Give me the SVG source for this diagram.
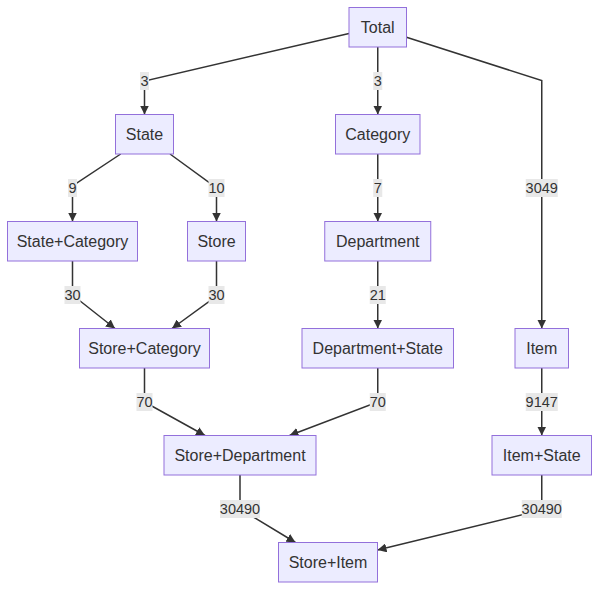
<svg xmlns="http://www.w3.org/2000/svg" width="599" height="590" viewBox="0 0 599 590">
<style>
.node rect{fill:#ECECFF;stroke:#9370DB;stroke-width:1}
.node text{font-family:"Liberation Sans",Arial,sans-serif;font-size:16px;fill:#333;text-anchor:middle;dominant-baseline:central}
.edges polyline{fill:none;stroke:#333;stroke-width:1.5;marker-end:url(#arrow)}
.elabel rect{fill:#e8e8e8}
.elabel text{font-family:"Liberation Sans",Arial,sans-serif;font-size:14.5px;fill:#333;text-anchor:middle;dominant-baseline:central}
</style>
<defs>
<marker id="arrow" viewBox="0 0 10 10" refX="10" refY="5" markerUnits="userSpaceOnUse" markerWidth="9" markerHeight="9" orient="auto">
<path d="M0,0 L10,5 L0,10 z" fill="#333"/>
</marker>
</defs>
<rect width="599" height="590" fill="#fff"/>
<g id="connectors" class="edges">
<polyline points="349,33.5 144.5,81 144.5,114.5"/>
<polyline points="377.75,47 377.75,114.5"/>
<polyline points="406.5,37.3 541.75,80.5 541.75,328.5"/>
<polyline points="120.7,154 72.5,186 72.5,221.5"/>
<polyline points="170,154 216.5,188 216.5,221.5"/>
<polyline points="377.75,154 377.75,221.5"/>
<polyline points="72.5,261 72.5,295 115,328.5"/>
<polyline points="216.5,261 216.5,296 172,328.5"/>
<polyline points="377.75,261 377.75,328.5"/>
<polyline points="144.5,368 144.5,402 205,435.5"/>
<polyline points="377.75,368 377.75,402 289.5,435.5"/>
<polyline points="541.75,368 541.75,435.5"/>
<polyline points="240,475 240,509 295.5,542.5"/>
<polyline points="541.75,475 541.75,510 377.5,550"/>
</g>
<g id="edge-labels" class="elabel">
<g><rect x="140" y="72" width="9" height="18"/><text x="144.5" y="81">3</text></g>
<g><rect x="373.25" y="72" width="9" height="18"/><text x="377.75" y="81">3</text></g>
<g><rect x="525.75" y="179" width="32" height="18"/><text x="541.75" y="188">3049</text></g>
<g><rect x="68" y="179" width="9" height="18"/><text x="72.5" y="188">9</text></g>
<g><rect x="208.5" y="179" width="16" height="18"/><text x="216.5" y="188">10</text></g>
<g><rect x="373.25" y="179" width="9" height="18"/><text x="377.75" y="188">7</text></g>
<g><rect x="64.5" y="286" width="16" height="18"/><text x="72.5" y="295">30</text></g>
<g><rect x="208.5" y="286" width="16" height="18"/><text x="216.5" y="295">30</text></g>
<g><rect x="369.75" y="286" width="16" height="18"/><text x="377.75" y="295">21</text></g>
<g><rect x="136.5" y="393" width="16" height="18"/><text x="144.5" y="402">70</text></g>
<g><rect x="369.75" y="393" width="16" height="18"/><text x="377.75" y="402">70</text></g>
<g><rect x="525.75" y="393" width="32" height="18"/><text x="541.75" y="402">9147</text></g>
<g><rect x="220" y="500" width="40" height="18"/><text x="240" y="509">30490</text></g>
<g><rect x="521.75" y="500" width="40" height="18"/><text x="541.75" y="509">30490</text></g>
</g>
<g id="Total" class="node"><rect x="349" y="7.5" width="57.5" height="39.5"/><text x="377.75" y="27.5">Total</text></g>
<g id="State" class="node"><rect x="115.5" y="114.5" width="58" height="39.5"/><text x="144.5" y="134.5">State</text></g>
<g id="Category" class="node"><rect x="335.5" y="114.5" width="84.5" height="39.5"/><text x="377.75" y="134.5">Category</text></g>
<g id="StateCategory" class="node"><rect x="7.5" y="221.5" width="130" height="39.5"/><text x="72.5" y="241.5">State+Category</text></g>
<g id="Store" class="node"><rect x="187.5" y="221.5" width="58" height="39.5"/><text x="216.5" y="241.5">Store</text></g>
<g id="Department" class="node"><rect x="324.75" y="221.5" width="106" height="39.5"/><text x="377.75" y="241.5">Department</text></g>
<g id="StoreCategory" class="node"><rect x="79.5" y="328.5" width="130" height="39.5"/><text x="144.5" y="348.5">Store+Category</text></g>
<g id="DepartmentState" class="node"><rect x="302" y="328.5" width="151.5" height="39.5"/><text x="377.75" y="348.5">Department+State</text></g>
<g id="Item" class="node"><rect x="515" y="328.5" width="53.5" height="39.5"/><text x="541.75" y="348.5">Item</text></g>
<g id="StoreDepartment" class="node"><rect x="164" y="435.5" width="152" height="39.5"/><text x="240" y="455.5">Store+Department</text></g>
<g id="ItemState" class="node"><rect x="492" y="435.5" width="99.5" height="39.5"/><text x="541.75" y="455.5">Item+State</text></g>
<g id="StoreItem" class="node"><rect x="278.5" y="542.5" width="99" height="39.5"/><text x="328" y="562.5">Store+Item</text></g>
</svg>
